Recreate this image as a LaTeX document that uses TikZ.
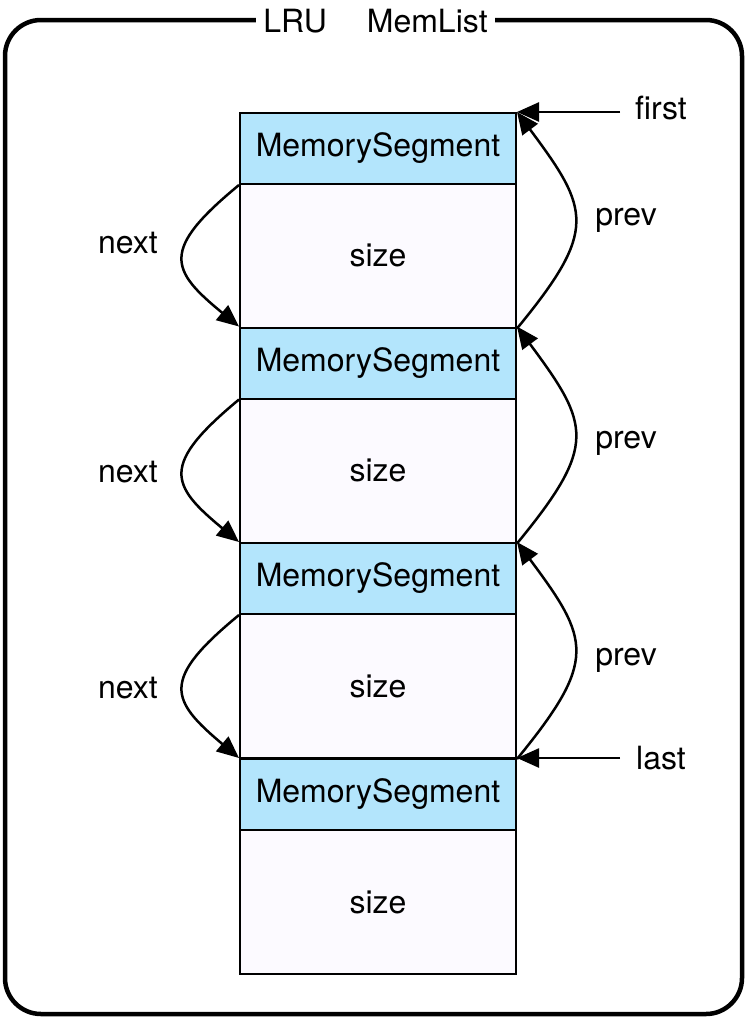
\documentclass[tikz,border=0pt]{standalone}
\usepackage{fontspec}
\setmainfont{TeX Gyre Heros}
\usetikzlibrary{arrows.meta}
\definecolor{segblue}{RGB}{179,229,252}
\definecolor{sizewhite}{RGB}{252,250,255}

\begin{document}
\begin{tikzpicture}[x = 1pt, y = -1pt]
\tikzstyle{SegStyle}=[shape = rectangle, draw, line width = 2pt, fill = segblue,
minimum width = 276pt, minimum height = 71pt, inner sep = 0pt,
font = \fontsize{32}{38}\selectfont]
\tikzstyle{SizeStyle}=[SegStyle, fill = sizewhite, minimum height = 144pt]
\tikzstyle{LinkStyle}=[line width = 2.5pt, -{Triangle[length = 22pt, width = 19pt]}]
\tikzstyle{LabelStyle}=[font = \fontsize{32}{38}\selectfont]
\useasboundingbox (0,0) rectangle (745,1017);
\draw[line width = 4.5pt, rounded corners = 36pt] (5,20) rectangle (742,1014);
\node[fill = white, inner xsep = 7pt, LabelStyle] (title) at (375.5,21) {LRU\hspace{1.25em}MemList};
\node[SegStyle] (seg1) at (378,148.5) {MemorySegment};
\node[SizeStyle] (size1) at (378,255.5) {size};
\node[SegStyle] (seg2) at (378,363) {MemorySegment};
\node[SizeStyle] (size2) at (378,470.5) {size};
\node[SegStyle] (seg3) at (378,578.5) {MemorySegment};
\node[SizeStyle] (size3) at (378,686) {size};
\node[SegStyle] (seg4) at (378,794.5) {MemorySegment};
\node[SizeStyle] (size4) at (378,902) {size};
\node[LabelStyle] (next1) at (128,243) {next};
\node[LabelStyle] (next2) at (128,472) {next};
\node[LabelStyle] (next3) at (128,688) {next};
\node[LabelStyle] (prev1) at (626,220) {prev};
\node[LabelStyle] (prev2) at (626,443) {prev};
\node[LabelStyle] (prev3) at (626,660) {prev};
\node[LabelStyle] (first) at (661,108) {first};
\node[LabelStyle] (last) at (661,758) {last};
\coordinate (firstend) at (620,112);
\coordinate (lastend) at (620,758);
\draw[LinkStyle] (seg1.south west) .. controls (160,250) and (170,270) .. (seg2.north west);
\draw[LinkStyle] (seg2.south west) .. controls (160,465) and (170,485) .. (seg3.north west);
\draw[LinkStyle] (seg3.south west) .. controls (160,680) and (170,700) .. (seg4.north west);
\draw[LinkStyle] (size1.south east) .. controls (598,230) and (590,210) .. (seg1.north east);
\draw[LinkStyle] (size2.south east) .. controls (598,445) and (590,425) .. (seg2.north east);
\draw[LinkStyle] (size3.south east) .. controls (598,660) and (590,640) .. (seg3.north east);
\draw[LinkStyle] (firstend) -- (seg1.north east);
\draw[LinkStyle] (lastend) -- (seg4.north east);
\end{tikzpicture}
\end{document}
